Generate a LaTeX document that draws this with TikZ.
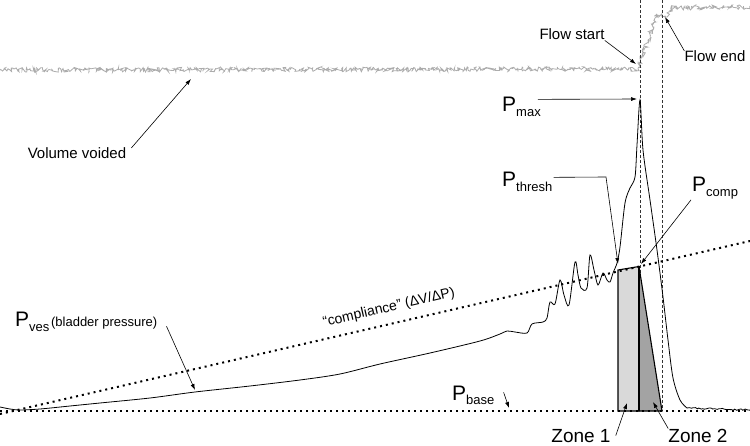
\documentclass[tikz,border=0pt]{standalone}
\usepackage{fontspec}
\setmainfont{Liberation Sans}
\usetikzlibrary{arrows.meta,decorations.pathmorphing}

\newcommand{\plab}[1]{{\fontsize{21}{21}\selectfont P}\raisebox{-5pt}{\fontsize{13}{13}\selectfont #1}}

\tikzset{
  arr/.style={-{Latex[length=6pt,width=4pt]}, line width=0.6pt},
  lbl/.style={inner sep=0pt, font=\fontsize{15}{15}\selectfont},
  zonelbl/.style={inner sep=0pt, font=\fontsize{19}{19}\selectfont},
  dotline/.style={line width=2pt, dash pattern=on 2pt off 4pt},
  guide/.style={line width=0.6pt, dash pattern=on 3pt off 2pt, black!80},
  volume/.style={gray!65, line width=0.8pt, decorate,
    decoration={random steps, segment length=1pt, amplitude=2.3pt}},
  trace/.style={line width=0.8pt},
}

\begin{document}
\begin{tikzpicture}[x=1pt, y=-1pt]
    \useasboundingbox (0,0) rectangle (750,446);

    % volume voided
    \pgfmathsetseed{7}
    \draw[volume] (0,70) -- (638,69) -- (648,40) -- (657,14) -- (665,16) -- (672,8) -- (750,7);

    % flow start / flow end guides
    \draw[guide] (640,0) -- (640,411);
    \draw[guide] (662,0) -- (662,411);

    % zones
    \draw[fill=black!15, line width=1.1pt] (618,270) -- (639,266.5) -- (639,411) -- (618,411) -- cycle;
    \draw[fill=black!36, line width=1.1pt] (639,266.5) -- (662,411) -- (639,411) -- cycle;
    \draw[line width=2pt] (639,266.5) -- (639,411);

    % baseline and compliance
    \draw[dotline] (0,411) -- (750,411);
    \draw[dotline] (0,414) -- (750,241);

    % bladder pressure
    \draw[trace] plot[smooth, tension=0.5] coordinates {
        (0,407) (10,409) (20,410) (40,409) (70,406) (100,403) (150,398)
        (195,392) (250,386) (300,380) (340,374) (380,364) (430,353)
        (480,341) (500,334) (507,331) (515,332) (527,333) (532,324)
        (543,322) (547,318) (550,302) (555,304) (560,280) (564,295)
        (569,305) (575,262) (578,275) (581,288) (587,288) (590,255)
        (594,270) (598,285) (603,273) (607,280) (610,282) (613,273)
        (617,263) (620,247) (625,203) (630,188) (635,177) (637,145)
        (640,100) (643,150) (650,200) (657,250) (663,297) (668,340)
        (673,378) (680,400) (687,408)};
    \draw[trace, decorate, decoration={random steps, segment length=2pt, amplitude=0.8pt}]
        (687,408) -- (750,410);

    % labels
    \node[lbl, anchor=base] (vol) at (77,159) {Volume voided};
    \node[lbl, anchor=base] (flowstart) at (572,40) {Flow start};
    \node[lbl, anchor=base] (flowend) at (715,62) {Flow end};
    \node[anchor=base west, inner sep=0pt] (pmax) at (502,112) {\plab{max}};
    \node[anchor=base west, inner sep=0pt] (pthresh) at (502,187) {\plab{thresh}};
    \node[anchor=base west, inner sep=0pt] (pcomp) at (692,192) {\plab{comp}};
    \node[anchor=base west, inner sep=0pt] (pves) at (15,327)
        {\plab{ves}\,{\fontsize{13}{13}\selectfont (bladder pressure)}};
    \node[anchor=base west, inner sep=0pt] (pbase) at (452,400) {\plab{base}};
    \node[inner sep=0pt, rotate=13, font=\fontsize{14}{14}\selectfont] (compl) at (389,308)
        {“compliance” (ΔV/ΔP)};
    \node[zonelbl, anchor=base] (zoneone) at (581,442) {Zone 1};
    \node[zonelbl, anchor=base] (zonetwo) at (698,442) {Zone 2};

    % arrow tips
    \coordinate (vtip) at (191,79);
    \coordinate (fstip) at (636,64);
    \coordinate (fetip) at (665,17);
    \coordinate (maxtip) at (637,99);
    \coordinate (threshknee) at (606,177);
    \coordinate (threshtip) at (618,264);
    \coordinate (comptip) at (641,264);
    \coordinate (vestip) at (195,390);
    \coordinate (basetip) at (509,408);
    \coordinate (zonetipa) at (627,403);
    \coordinate (zonetipb) at (653,402);

    \draw[arr] ([xshift=5pt]vol.north east) -- (vtip);
    \draw[arr] (flowstart.south east) -- (fstip);
    \draw[arr] (flowend.north west) -- (fetip);
    \draw[arr] ([xshift=-3pt, yshift=-2pt]pmax.north east) -- (maxtip);
    \draw[arr] ([xshift=1pt, yshift=5pt]pthresh.east) -- (threshknee) -- (threshtip);
    \draw[arr] ([xshift=-1pt]pcomp.south west) -- (comptip);
    \draw[arr] ([xshift=9pt, yshift=-4pt]pves.east) -- (vestip);
    \draw[arr] ([xshift=9pt, yshift=3pt]pbase.east) -- (basetip);
    \draw[arr] ([xshift=5pt]zoneone.east) -- (zonetipa);
    \draw[arr] (zonetwo.north west) -- (zonetipb);
\end{tikzpicture}
\end{document}
